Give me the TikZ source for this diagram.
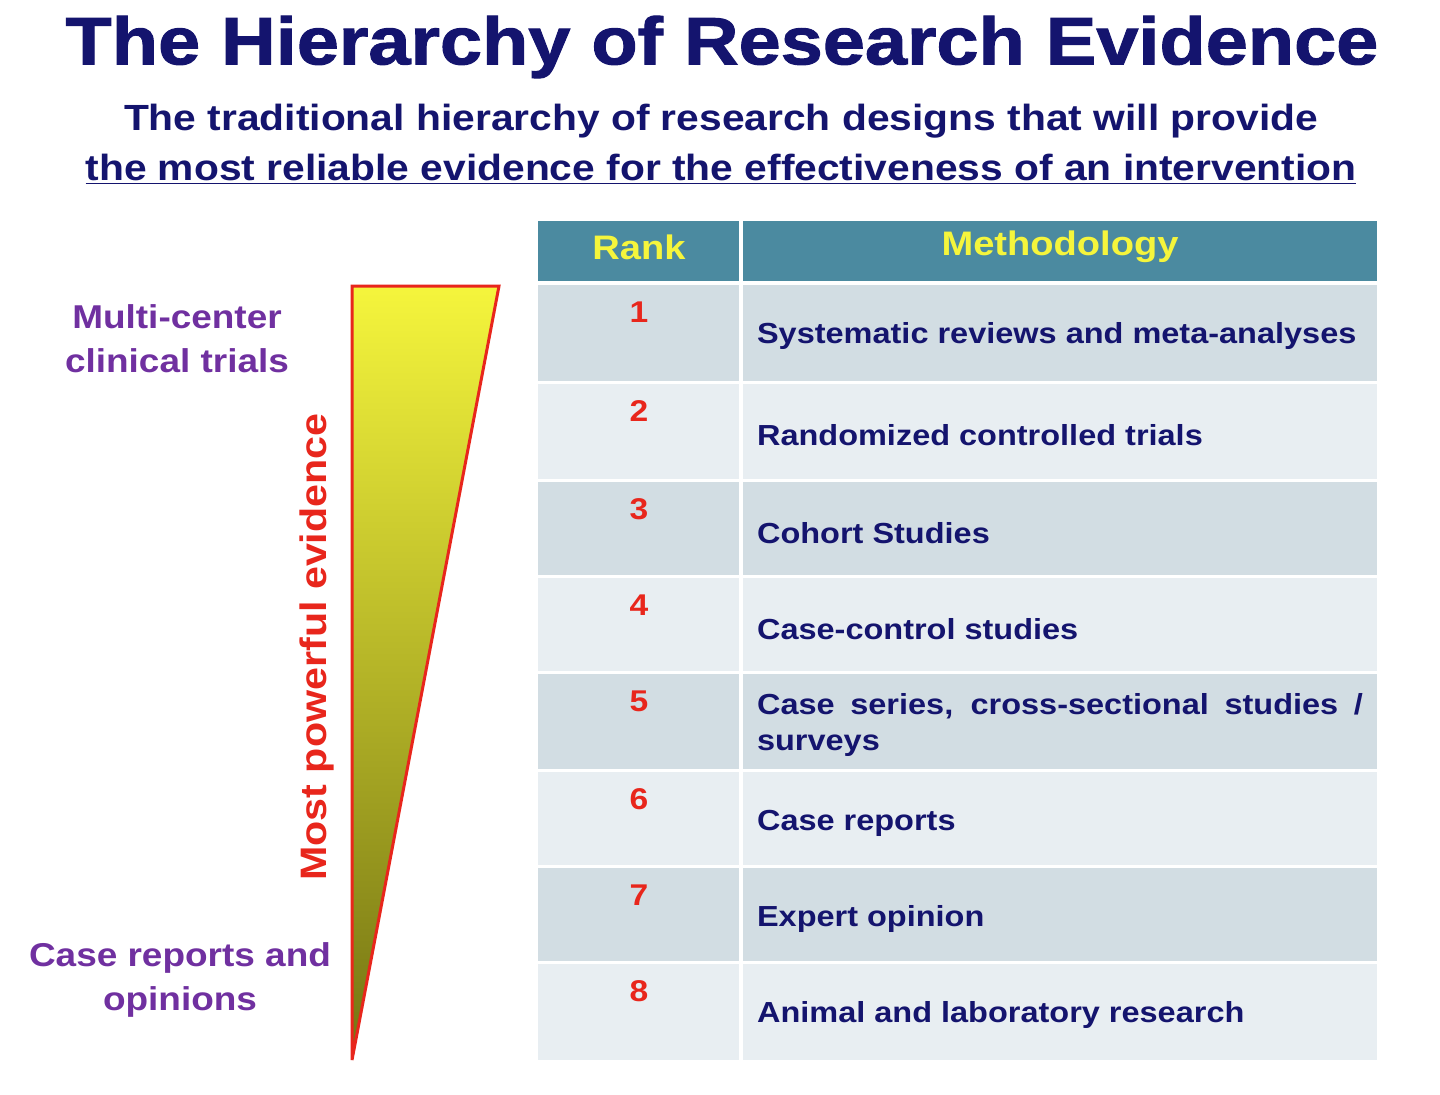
\documentclass[tikz,border=0pt]{standalone}
\usepackage{fontspec}
\setmainfont{Liberation Sans}
\newfontfamily\wf[FakeStretch=1.12]{Liberation Sans}
\newfontfamily\tf[FakeStretch=1.13,FakeBold=1.5]{Liberation Sans}
\definecolor{navy}{HTML}{14146E}
\definecolor{teal}{HTML}{4B8AA0}
\definecolor{rowa}{HTML}{D2DDE3}
\definecolor{rowb}{HTML}{E8EEF2}
\definecolor{purp}{HTML}{7030A0}
\definecolor{rnum}{HTML}{E8261C}
\definecolor{hyel}{HTML}{F5F53C}
\begin{document}
\begin{tikzpicture}[x=0.5pt,y=-0.5pt,
  num/.style={font=\wf\bfseries\fontsize{15}{18}\selectfont,text=rnum},
  meth/.style={font=\wf\bfseries\fontsize{14.5}{18}\selectfont,text=navy,anchor=west,align=left},
  head/.style={font=\wf\bfseries\fontsize{17}{20}\selectfont,text=hyel},
  side/.style={font=\wf\bfseries\fontsize{16.5}{22}\selectfont,text=purp,align=center}]
\useasboundingbox[fill=white] (0,0) rectangle (1440,1094);
\node[font=\tf\bfseries\fontsize{33.5}{36}\selectfont,text=navy] (title) at (722,47) {The Hierarchy of Research Evidence};
\node[font=\wf\bfseries\fontsize{18.2}{22}\selectfont,text=navy] (sub1) at (721,121) {The traditional hierarchy of research designs that will provide};
\node[font=\wf\bfseries\fontsize{18.2}{22}\selectfont,text=navy] (sub2) at (721,169) {\underline{the most reliable evidence for the effectiveness of an intervention}};
% header
\fill[teal] (538,221) rectangle (739,281);
\fill[teal] (743,221) rectangle (1377,281);
\node[head] (hr) at (639,247) {Rank};
\node[head] (hm) at (1060,247) {Methodology};
% rows
\foreach \i/\t/\b/\txt in {1/285/381/Systematic reviews and meta-analyses,
  2/384/479/Randomized controlled trials,
  3/482/575/Cohort Studies,
  4/578/671/Case-control studies,
  5/674/769/{},
  6/772/865/Case reports,
  7/868/961/Expert opinion,
  8/964/1060/Animal and laboratory research}{
  \pgfmathsetmacro{\odd}{mod(\i,2)}
  \ifdim\odd pt>0pt \def\rc{rowa}\else\def\rc{rowb}\fi
  \fill[\rc] (538,\t) rectangle (739,\b);
  \fill[\rc] (743,\t) rectangle (1377,\b);
  \node[num] (n\i) at (639,\t+27) {\i};
  \node[meth] (m\i) at (750,\t+51) {\txt};
}
\node[meth,anchor=north west] (m5b) at (750,686) {\makebox[303pt][s]{Case series, cross-sectional studies /}\\surveys};
% triangle
\shade[top color=hyel,bottom color=hyel!45!black!70!olive] (352,286) -- (499,286) -- (352,1060) -- cycle;
\draw[rnum,line width=1.5pt,line join=miter] (352,286) -- (499,286) -- (352,1060) -- cycle;
\node[font=\wf\bfseries\fontsize{18.4}{22}\selectfont,text=rnum,rotate=90] (mp) at (317,647) {Most powerful evidence};
\node[side] (top) at (177,339) {Multi-center\\clinical trials};
\node[side] (bot) at (180,980) {Case reports and\\opinions};
\end{tikzpicture}
\end{document}
